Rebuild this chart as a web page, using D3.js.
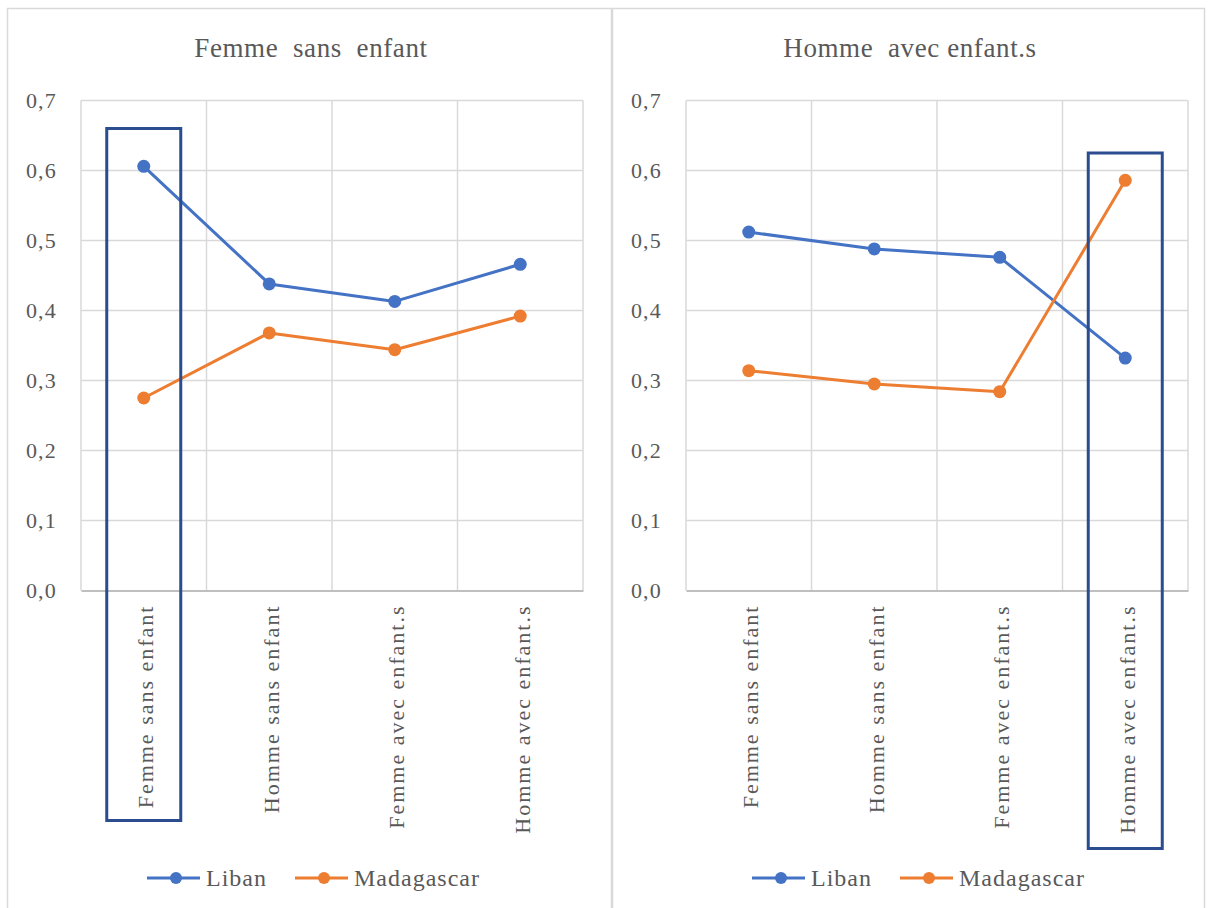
<!DOCTYPE html>
<html>
<head>
<meta charset="utf-8">
<script src="https://cdn.jsdelivr.net/npm/d3@7"></script>
<style>
  html, body { margin: 0; padding: 0; background: #ffffff; }
  svg { display: block; }
  svg text { font-family: "Liberation Serif", Tinos, "Times New Roman", Times, "DejaVu Serif", serif; fill: #595959; }
</style>
</head>
<body>
<svg id="chart" width="1210" height="908"></svg>
<script>
// Categories shared by both panels
const categories = ["Femme sans enfant", "Homme sans enfant", "Femme avec enfant.s", "Homme avec enfant.s"];
const seriesNames = ["Liban", "Madagascar"];
const seriesColors = ["#4472C4", "#ED7D31"];
const yTicks = [0, 0.1, 0.2, 0.3, 0.4, 0.5, 0.6, 0.7];

// Panel titles
const panelTitles = ["Femme  sans  enfant", "Homme  avec enfant.s"];

// Values per panel (Liban, Madagascar)
const libanFemmeSansEnfant = [0.606, 0.438, 0.413, 0.466];
const madagascarFemmeSansEnfant = [0.275, 0.368, 0.344, 0.392];
const libanHommeAvecEnfant = [0.512, 0.488, 0.476, 0.332];
const madagascarHommeAvecEnfant = [0.314, 0.295, 0.284, 0.586];

// Highlighted category in each panel and the value at the top of its frame
const highlightIndex = [0, 3];
const highlightTop = [0.66, 0.625];

const serif = "'Liberation Serif', Tinos, 'Times New Roman', Times, 'DejaVu Serif', serif";

const panels = [
  { title: panelTitles[0], series: [libanFemmeSansEnfant, madagascarFemmeSansEnfant], hi: highlightIndex[0], hiTop: highlightTop[0], hiDrop: 230, x0: 7, x1: 611 },
  { title: panelTitles[1], series: [libanHommeAvecEnfant, madagascarHommeAvecEnfant], hi: highlightIndex[1], hiTop: highlightTop[1], hiDrop: 258, x0: 612, x1: 1204 }
];

const svg = d3.select("#chart");
const fmt = d => d3.format(".1f")(d).replace(".", ",");

const plotTop = 100.5, plotBottom = 590.5;

panels.forEach(p => {
  const g = svg.append("g");

  // panel frame
  g.append("rect")
    .attr("x", p.x0 + 0.5).attr("y", 8.5)
    .attr("width", p.x1 - p.x0).attr("height", 920)
    .attr("fill", "#fff").attr("stroke", "#d9d9d9").attr("stroke-width", 1.5);

  const left = p.x0 + 74, right = left + 502;
  const x = d3.scaleBand().domain(categories).range([left, right]).padding(0);
  const y = d3.scaleLinear().domain([0, 0.7]).range([plotBottom, plotTop]);

  // title
  g.append("text")
    .attr("x", (p.x0 + p.x1) / 2 + 2).attr("y", 57)
    .attr("text-anchor", "middle")
    .style("font-family", serif)
    .attr("font-size", 27)
    .attr("letter-spacing", 0.6)
    .style("white-space", "pre")
    .text(p.title);

  // horizontal gridlines
  g.append("g").selectAll("line").data(yTicks.filter(t => t > 0)).join("line")
    .attr("x1", left).attr("x2", right)
    .attr("y1", d => y(d)).attr("y2", d => y(d))
    .attr("stroke", "#d9d9d9").attr("stroke-width", 1.5);

  // vertical gridlines at category boundaries
  const edges = categories.map(c => x(c)).concat([right]);
  g.append("g").selectAll("line").data(edges).join("line")
    .attr("x1", d => d).attr("x2", d => d)
    .attr("y1", plotTop).attr("y2", plotBottom)
    .attr("stroke", "#d9d9d9").attr("stroke-width", 1.5);

  // y axis labels
  const yAxis = d3.axisLeft(y).tickValues(yTicks).tickFormat(fmt).tickSize(0).tickPadding(0);
  const ya = g.append("g").attr("transform", `translate(${left - 24},0)`).call(yAxis)
    .attr("font-family", null).attr("font-size", null);
  ya.select(".domain").remove();
  ya.selectAll("text")
    .style("font-family", serif)
    .attr("font-size", 22).attr("letter-spacing", 1.2)
    .attr("fill", "#595959");

  // category axis
  const xAxis = d3.axisBottom(x).tickSize(0).tickPadding(0);
  const xa = g.append("g").attr("transform", `translate(0,${plotBottom})`).call(xAxis)
    .attr("font-family", null).attr("font-size", null);
  xa.select(".domain").attr("stroke", "#bfbfbf").attr("stroke-width", 2);
  xa.selectAll("text")
    .style("font-family", serif)
    .attr("font-size", 22).attr("letter-spacing", 2)
    .attr("fill", "#595959")
    .attr("text-anchor", "end")
    .attr("dy", null)
    .attr("transform", "translate(2,14) rotate(-90)")
    .attr("x", 0).attr("y", 0)
    .attr("dominant-baseline", "central");

  // series lines and markers
  const line = d3.line().x((d, i) => x(categories[i]) + x.bandwidth() / 2).y(d => y(d));
  p.series.forEach((vals, si) => {
    g.append("path").datum(vals)
      .attr("d", line).attr("fill", "none")
      .attr("stroke", seriesColors[si]).attr("stroke-width", 3)
      .attr("stroke-linejoin", "round");
    g.append("g").selectAll("circle").data(vals).join("circle")
      .attr("cx", (d, i) => x(categories[i]) + x.bandwidth() / 2)
      .attr("cy", d => y(d))
      .attr("r", 6.5)
      .attr("fill", seriesColors[si]);
  });

  // frame around the highlighted category
  const hc = x(categories[p.hi]) + x.bandwidth() / 2;
  g.append("rect")
    .attr("x", hc - 37).attr("y", y(p.hiTop))
    .attr("width", 74).attr("height", plotBottom + p.hiDrop - y(p.hiTop))
    .attr("fill", "none").attr("stroke", "#2B4C8F").attr("stroke-width", 3);

  // legend
  const lg = g.append("g").attr("transform", `translate(${p.x0 + 140},878)`);
  const legendPos = [0, 148];
  seriesNames.forEach((name, si) => {
    const item = lg.append("g").attr("transform", `translate(${legendPos[si]},0)`);
    item.append("line").attr("x1", 0).attr("x2", 53).attr("y1", 0).attr("y2", 0)
      .attr("stroke", seriesColors[si]).attr("stroke-width", 3);
    item.append("circle").attr("cx", 29).attr("cy", 0).attr("r", 6).attr("fill", seriesColors[si]);
    item.append("text").attr("x", 59).attr("y", 0).attr("dy", "0.34em")
      .style("font-family", serif)
      .attr("font-size", 24).attr("letter-spacing", 1)
      .text(name);
  });
});
</script>
</body>
</html>
